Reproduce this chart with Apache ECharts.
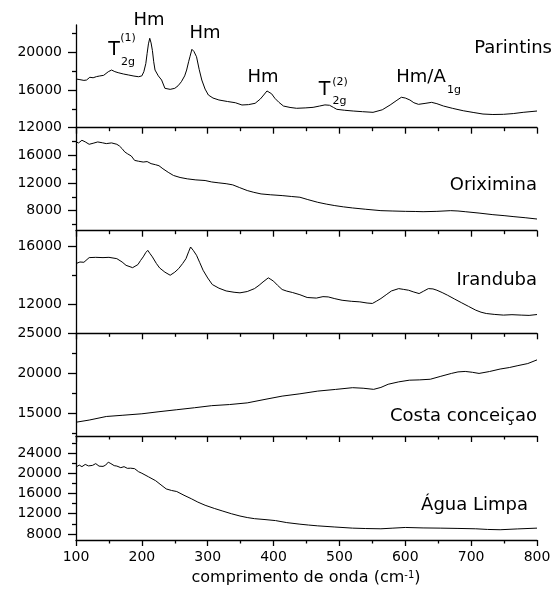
<!DOCTYPE html>
<html><head><meta charset="utf-8">
<script src="https://cdn.jsdelivr.net/npm/echarts@6/dist/echarts.min.js"></script>
<style>html,body{margin:0;padding:0;background:#fff}#c{width:554px;height:599px}</style>
</head><body><div id="c"></div>
<script>
// ---- data (wavenumber cm-1, intensity) ----
const parintins = [[100,17170],[106,17100],[112,17020],[116,17060],[121,17350],[126,17300],[131,17420],[136,17490],[142,17560],[149,17940],[154,18120],[159,17950],[164,17840],[172,17700],[180,17590],[188,17480],[195,17410],[200,17500],[203,17940],[206,18800],[208,19890],[210,20900],[212,21490],[214,21000],[216,20200],[218,19000],[220,18120],[225,17500],[230,17060],[235,16180],[243,16070],[250,16180],[255,16450],[260,16880],[265,17500],[268,18120],[271,19000],[273,19530],[276,20320],[279,20100],[283,19530],[287,18200],[291,17060],[296,16100],[301,15470],[308,15150],[317,14940],[330,14780],[342,14650],[352,14410],[362,14450],[372,14590],[380,15050],[385,15470],[390,15900],[393,16000],[397,15600],[402,15120],[408,14700],[415,14300],[425,14150],[435,14060],[448,14100],[460,14160],[470,14300],[478,14420],[485,14380],[491,14150],[496,13950],[508,13850],[521,13770],[535,13700],[551,13630],[565,13900],[577,14410],[586,14850],[594,15230],[600,15150],[607,14940],[613,14650],[620,14480],[630,14580],[640,14690],[648,14550],[658,14300],[672,14050],[688,13800],[703,13620],[718,13450],[733,13400],[749,13420],[764,13500],[779,13630],[800,13770]];
const oriximina = [[100,17940],[104,17800],[109,18180],[114,17950],[120,17600],[126,17750],[133,17940],[140,17820],[146,17700],[154,17800],[162,17600],[166,17350],[170,16970],[174,16500],[178,16240],[184,15900],[189,15270],[195,15150],[202,15030],[208,15100],[214,14800],[221,14640],[226,14500],[232,14060],[240,13550],[248,13090],[258,12800],[269,12600],[282,12450],[296,12360],[306,12150],[317,12020],[328,11900],[338,11730],[348,11350],[360,10910],[370,10650],[381,10420],[395,10300],[413,10180],[427,10050],[440,9940],[452,9600],[467,9210],[480,8950],[493,8730],[506,8550],[520,8390],[540,8200],[563,8000],[580,7950],[600,7900],[615,7880],[627,7850],[648,7900],[669,8000],[680,7950],[691,7850],[712,7650],[733,7420],[750,7280],[765,7130],[782,6980],[800,6790]];
const iranduba = [[100,14790],[106,14900],[112,14880],[120,15200],[130,15220],[141,15200],[150,15220],[162,15130],[170,14900],[176,14670],[186,14510],[194,14720],[198,15000],[202,15250],[206,15550],[209,15700],[212,15500],[216,15250],[222,14800],[227,14490],[235,14200],[243,13990],[250,14200],[256,14450],[262,14800],[267,15130],[271,15600],[274,15930],[278,15700],[283,15360],[288,14850],[293,14330],[300,13800],[307,13350],[317,13100],[328,12910],[340,12820],[349,12780],[360,12870],[371,13070],[378,13300],[384,13530],[392,13810],[396,13700],[400,13580],[406,13300],[413,13010],[420,12900],[429,12800],[440,12650],[451,12460],[465,12420],[475,12520],[483,12500],[493,12380],[504,12270],[518,12200],[531,12160],[542,12080],[550,12050],[556,12200],[563,12390],[571,12650],[579,12910],[590,13070],[597,13020],[605,12960],[612,12850],[621,12730],[628,12900],[635,13070],[642,13050],[648,12960],[656,12800],[664,12620],[675,12350],[685,12110],[696,11850],[707,11590],[715,11450],[723,11360],[735,11300],[749,11250],[762,11280],[776,11250],[788,11230],[800,11290]];
const costa = [[100,13830],[120,14100],[146,14550],[170,14700],[200,14890],[226,15150],[253,15400],[280,15650],[306,15910],[333,16050],[360,16260],[387,16700],[413,17110],[440,17400],[467,17740],[494,17950],[520,18170],[536,18100],[552,17960],[563,18200],[574,18600],[590,18900],[606,19110],[622,19150],[638,19230],[654,19600],[670,19960],[680,20150],[691,20210],[702,20100],[712,19960],[728,20200],[744,20510],[758,20700],[771,20940],[786,21200],[800,21660]];
const aguaLimpa = [[100,21230],[105,21600],[109,21300],[114,21740],[119,21450],[125,21550],[130,21900],[135,21400],[141,21350],[145,21600],[149,22190],[153,21900],[158,21500],[162,21420],[168,21100],[173,21300],[178,20970],[183,21000],[189,20900],[195,20300],[200,20000],[210,19300],[221,18520],[229,17700],[237,16900],[245,16600],[253,16390],[264,15650],[275,14970],[285,14300],[296,13680],[310,13050],[323,12520],[336,12000],[349,11550],[360,11250],[371,11030],[387,10850],[403,10650],[420,10250],[440,9940],[453,9770],[467,9610],[493,9380],[520,9160],[540,9080],[563,9030],[580,9150],[600,9290],[627,9200],[653,9160],[680,9100],[707,9030],[725,8900],[744,8840],[770,9000],[800,9160]];

const seriesNames = ['Parintins','Oriximina','Iranduba','Costa conceiçao','Água Limpa'];
const seriesData = [parintins, oriximina, iranduba, costa, aguaLimpa];

// tick labels per panel
const yLabels1 = [12000,16000,20000];
const yMinor1  = [14000,18000,22000];
const yLabels2 = [8000,12000,16000];
const yMinor2  = [6000,10000,14000,18000];
const yLabels3 = [12000,16000];
const yMinor3  = [14000];
const yLabels4 = [15000,20000,25000];
const yMinor4  = [12500,17500,22500];
const yLabels5 = [8000,12000,16000,20000,24000];
const yMinor5  = [10000,14000,18000,22000,26000];
const yLabels = [yLabels1,yLabels2,yLabels3,yLabels4,yLabels5];
const yMinors = [yMinor1,yMinor2,yMinor3,yMinor4,yMinor5];
const yRanges = [[12000,22900],[5100,20000],[10000,17050],[12100,25000],[6815,27355]];
const xTickLabels = [100,200,300,400,500,600,700,800];

// ---- layout ----
const bounds = [25,127.7,230.7,333.3,436,540];
const LEFT = 76, RIGHT = 17;
const FONT = 'DejaVu Sans';
const plain = v => String(Math.round(v));

const grids = [], xAxes = [], yAxes = [], series = [];
for (let i = 0; i < 5; i++) {
  grids.push({left: LEFT, right: RIGHT, top: bounds[i], height: bounds[i+1]-bounds[i]});
  const last = i === 4;
  xAxes.push({
    type:'value', gridIndex:i, min:100, max:800, interval:100,
    axisLine:{show:true, lineStyle:{color:'#000', width:1.3}},
    axisTick:{show:true, length:6, lineStyle:{color:'#000', width:1.3}},
    minorTick:{show:true, splitNumber:2, length:3.5, lineStyle:{color:'#000', width:1.3}},
    splitLine:{show:false}, minorSplitLine:{show:false},
    axisLabel:{show:last, color:'#000', fontFamily:FONT, fontSize:14, margin:10,
      customValues: xTickLabels, formatter: plain}
  });
  yAxes.push({
    type:'value', gridIndex:i, position:'left', min:yRanges[i][0], max:yRanges[i][1],
    axisLine:{show:true, lineStyle:{color:'#000', width:1.3}},
    axisTick:{show:true, length:8, customValues:yLabels[i], lineStyle:{color:'#000', width:1.3}},
    axisLabel:{show:true, color:'#000', fontFamily:FONT, fontSize:14, margin:14,
      customValues:yLabels[i], formatter: plain},
    splitLine:{show:false}
  });
  yAxes.push({
    type:'value', gridIndex:i, position:'left', min:yRanges[i][0], max:yRanges[i][1],
    axisLine:{show:false},
    axisTick:{show:true, length:4, customValues:yMinors[i], lineStyle:{color:'#000', width:1.3}},
    axisLabel:{show:false}, splitLine:{show:false}
  });
  series.push({
    name: seriesNames[i], type:'line', xAxisIndex:i, yAxisIndex:2*i,
    data: seriesData[i], showSymbol:false, smooth:false,
    lineStyle:{color:'#000', width:1}, silent:true
  });
}

function txt(x, y, text, size, align) {
  return {type:'text', x:x, y:y, silent:true,
    style:{text:text, fill:'#000', font: size+'px "'+FONT+'"', align: align||'center', verticalAlign:'middle'}};
}

const graphics = [
  txt(552, 48.5, 'Parintins', 18, 'right'),
  txt(537, 185, 'Oriximina', 18, 'right'),
  txt(537, 280, 'Iranduba', 18, 'right'),
  txt(537, 416, 'Costa conceiçao', 18, 'right'),
  txt(528, 505, 'Água Limpa', 18, 'right'),
  txt(149, 20.5, 'Hm', 18),
  txt(205, 33.5, 'Hm', 18),
  txt(263, 77.5, 'Hm', 18),
  txt(114, 50, 'T', 19),
  txt(128, 38, '(1)', 11),
  txt(128, 62, '2g', 11),
  txt(324.5, 90, 'T', 19),
  txt(340, 82.5, '(2)', 11),
  txt(339.5, 101, '2g', 11),
  txt(421, 77.5, 'Hm/A', 18),
  txt(454, 90, '1g', 11),
  {type:'text', x:306, y:578, silent:true,
   style:{text:'comprimento de onda (cm{s|-1}{n|)}', fill:'#000', font:'16px "'+FONT+'"',
     align:'center', verticalAlign:'middle',
     rich:{s:{fontSize:10, fontFamily:FONT, verticalAlign:'top', fill:'#000'},
           n:{fontSize:16, fontFamily:FONT, fill:'#000'}}}}
];

const chart = echarts.init(document.getElementById('c'), null, {renderer:'canvas'});
chart.setOption({
  animation:false, backgroundColor:'#fff',
  grid: grids, xAxis: xAxes, yAxis: yAxes, series: series, graphic: graphics
});
</script>
</body></html>
